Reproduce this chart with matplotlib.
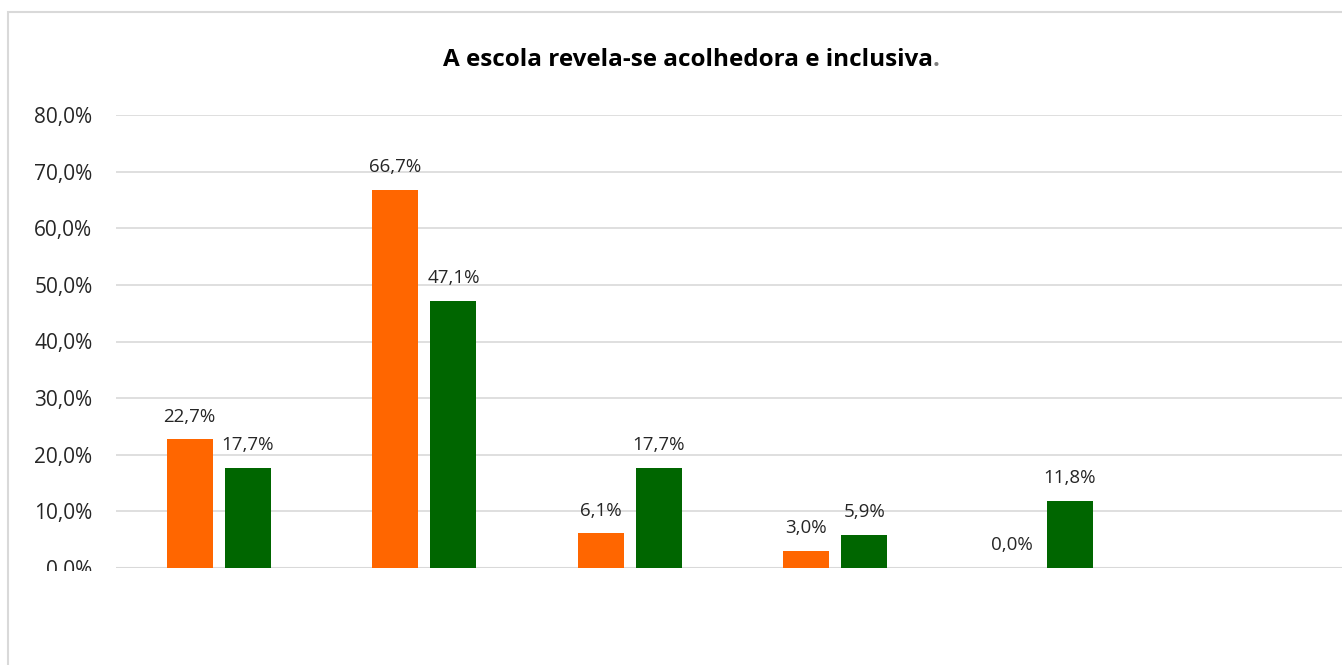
import numpy as np
import matplotlib
matplotlib.use("Agg")
import matplotlib.pyplot as plt
from matplotlib.patches import Rectangle
from matplotlib.transforms import Bbox

plt.rcParams['font.family'] = ['Open Sans', 'DejaVu Sans']

# seis posições no eixo, a última fica vazia
n_posicoes = 6
serie_laranja = [22.7, 66.7, 6.1, 3.0, 0.0]
serie_verde = [17.7, 47.1, 17.7, 5.9, 11.8]
ticks_y = [0, 10, 20, 30, 40, 50, 60, 70, 80]
titulo = "A escola revela-se acolhedora e inclusiva"

cor_laranja = "#FF6600"
cor_verde = "#006600"
cinza = "#D9D9D9"
W, H = 1342, 665


def fmt(v):
    return f"{v:.1f}%".replace(".", ",")


fig = plt.figure(figsize=(W / 100, H / 100), dpi=100)
ax = fig.add_axes([116 / W, 1 - 568 / H, 1233 / W, 453 / H])

x = np.arange(len(serie_laranja))
largura = 0.224
desloc = 0.142

b1 = ax.bar(x - desloc, serie_laranja, largura, color=cor_laranja, zorder=3)
b2 = ax.bar(x + desloc, serie_verde, largura, color=cor_verde, zorder=3)

for barras, valores in ((b1, serie_laranja), (b2, serie_verde)):
    for b, v in zip(barras, valores):
        ax.annotate(fmt(v), (b.get_x() + b.get_width() / 2, v),
                    xytext=(0, 10), textcoords="offset points",
                    ha="center", va="bottom", fontsize=13.5, color="#262626")

ax.set_xlim(-0.5, n_posicoes - 0.5)
ax.set_ylim(0, 80)
ax.set_yticks(ticks_y)
ax.set_yticklabels([fmt(t) for t in ticks_y])
ax.tick_params(axis="y", length=0, pad=17, labelsize=15, labelcolor="#262626")
ax.set_xticks([])
ax.grid(axis="y", color=cinza, linewidth=1.2, zorder=0)
for s in ax.spines.values():
    s.set_visible(False)
ax.axhline(0, color=cinza, linewidth=1.5, zorder=2)

# o rótulo 0,0% aparece cortado em baixo
corte = Bbox([[0, H - 571], [W, H]])
for lab in ax.get_yticklabels():
    lab.set_clip_box(corte)
    lab.set_clip_on(True)

# título a negrito, com o ponto final em cinzento
tit = fig.text(443 / W, 1 - 60 / H, titulo, ha="left", va="center",
               fontsize=17.5, fontweight="bold", color="black")
fig.canvas.draw()
x_fim = tit.get_window_extent(fig.canvas.get_renderer()).x1
fig.text(x_fim / W, 1 - 60 / H, ".", ha="left", va="center",
         fontsize=17.5, fontweight="bold", color="#7F7F7F")

fig.patches.append(Rectangle((8 / W, -0.1), 1.2, 1 - 12 / H + 0.1,
                             transform=fig.transFigure, fill=False,
                             edgecolor=cinza, linewidth=1.5))

fig.savefig("out.png", dpi=100, facecolor="white")
